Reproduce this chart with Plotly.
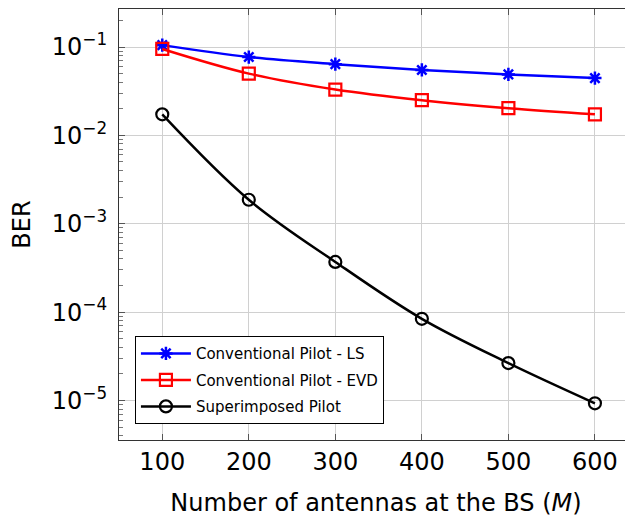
import plotly.graph_objects as go
import numpy as np

M = [100, 200, 300, 400, 500, 600]
ber_ls = [0.105, 0.077, 0.064, 0.055, 0.049, 0.0445]
ber_evd = [0.095, 0.050, 0.033, 0.025, 0.0203, 0.0173]
ber_sp = [0.0173, 0.00187, 0.00037, 8.4e-5, 2.65e-5, 9.3e-6]

xtick_vals = [100, 200, 300, 400, 500, 600]
ytick_vals = [1e-5, 1e-4, 1e-3, 1e-2, 1e-1]
ytick_text = ["10<sup>−5</sup>", "10<sup>−4</sup>", "10<sup>−3</sup>", "10<sup>−2</sup>", "10<sup>−1</sup>"]

font_family = "DejaVu Sans"

fig = go.Figure()
fig.add_trace(go.Scatter(x=M, y=ber_ls, mode="lines+markers", name="Conventional Pilot - LS",
                         legendgroup="a",
                         line=dict(color="#0000ff", width=2.5, shape="spline"),
                         marker=dict(symbol="asterisk-open", size=11, color="#0000ff",
                                     line=dict(color="#0000ff", width=2.5))))
fig.add_trace(go.Scatter(x=M, y=ber_evd, mode="lines+markers", name="Conventional Pilot - EVD",
                         legendgroup="b",
                         line=dict(color="#ff0000", width=2.5, shape="spline"),
                         marker=dict(symbol="square-open", size=12, color="#ff0000",
                                     line=dict(color="#ff0000", width=2.2))))
fig.add_trace(go.Scatter(x=M, y=ber_sp, mode="lines+markers", name="Superimposed Pilot",
                         legendgroup="c",
                         line=dict(color="#000000", width=2.5, shape="spline"),
                         marker=dict(symbol="circle-open", size=12, color="#000000",
                                     line=dict(color="#000000", width=2.2))))

minor_vals = [m * 10.0 ** e for e in range(-6, 0) for m in range(2, 10)]

fig.update_layout(
    width=625, height=509,
    margin=dict(l=111, r=0, t=1, b=77),
    paper_bgcolor="white", plot_bgcolor="white",
    font=dict(family=font_family, color="black"),
    showlegend=True,
    legend=dict(x=0.031, y=0.241, xanchor="left", yanchor="top",
                bgcolor="white", bordercolor="black", borderwidth=1,
                font=dict(size=15, family=font_family), tracegroupgap=4,
                itemwidth=50),
    xaxis=dict(range=[50, 644], tickvals=xtick_vals, ticks="inside", ticklen=6,
               tickcolor="#555", showline=True, linecolor="#333", linewidth=1.2,
               mirror="allticks", showgrid=True, gridcolor="#d0d0d0", gridwidth=1,
               zeroline=False, tickfont=dict(size=24), automargin=False,
               ticklabelstandoff=0,
               title=dict(text="Number of antennas at the BS (<i>M</i>)", font=dict(size=24),
                          standoff=32)),
    yaxis=dict(type="log", range=[-5.447, -0.570], tickvals=ytick_vals, ticktext=ytick_text,
               ticks="inside", ticklen=6, tickcolor="#555", showline=True, linecolor="#333",
               linewidth=1.2, mirror="allticks", showgrid=True, gridcolor="#d0d0d0",
               gridwidth=1, zeroline=False, tickfont=dict(size=24), automargin=False,
               ticklabelstandoff=6,
               minor=dict(tickvals=minor_vals, ticks="inside", ticklen=4, tickcolor="#777",
                          showgrid=False),
               title=dict(text="BER", font=dict(size=24), standoff=26)),
)

fig.write_html("out.html")
